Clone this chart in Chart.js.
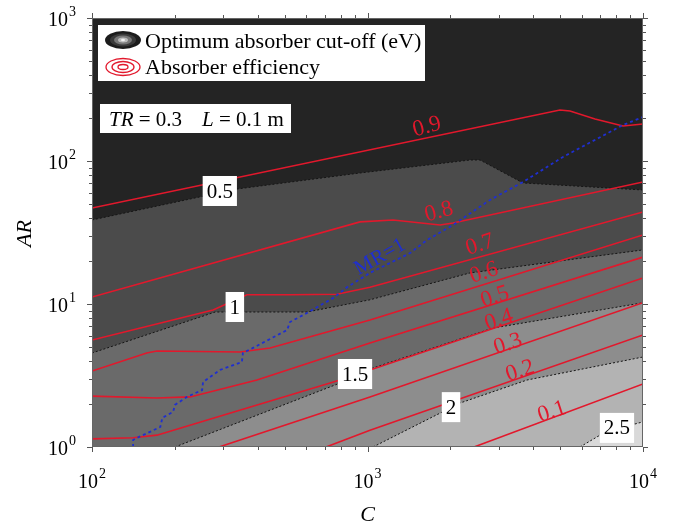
<!DOCTYPE html>
<html>
<head>
<meta charset="utf-8">
<script src="https://cdn.jsdelivr.net/npm/chart.js@4.4.0/dist/chart.umd.min.js"></script>
<style>
body{margin:0;background:#fff;}
canvas{display:block;}
</style>
</head>
<body>
<canvas id="chart" width="673" height="530"></canvas>
<script>
// optimum absorber cut-off contour boundaries (C, AR)
const cut05C = [100, 336, 939, 2356, 2561, 3668, 10000];
const cut05AR = [38.7, 63.7, 82.4, 101.6, 101.6, 70.2, 62.7];
const cut10C = [100, 280, 603, 1021, 2356, 10000];
const cut10AR = [4.54, 8.79, 8.79, 10.7, 16.5, 23.9];
const cut15C = [200, 795, 1047, 2855, 10000];
const cut15AR = [1, 2.80, 3.57, 6.79, 10.2];
const cut20C = [1047, 2167, 3793, 10000];
const cut20AR = [1, 2.03, 2.94, 4.26];
const cut25C = [5905, 7281, 10000];
const cut25AR = [1, 1.27, 1.50];

// absorber efficiency contours
const eff09C = [100, 4995, 5433, 6695, 8460, 10000];
const eff09AR = [46.9, 227.3, 223.7, 196.7, 175.7, 181.4];
const eff08C = [100, 939, 1238, 1833, 2044, 10000];
const eff08AR = [11.2, 37.5, 38.7, 35.7, 36.8, 71.3];
const eff07C = [100, 275, 365, 523, 775, 1021, 10000];
const eff07AR = [5.60, 9.08, 11.6, 11.6, 11.7, 13.1, 44.0];
const eff06C = [100, 158, 172, 345, 443, 1021, 10000];
const eff06AR = [3.40, 4.54, 4.69, 4.62, 4.93, 7.73, 30.4];
const eff05C = [100, 172, 227, 397, 1021, 10000];
const eff05AR = [2.27, 2.20, 2.24, 2.94, 5.34, 21.3];
const eff04C = [100, 141, 172, 299, 795, 1021, 10000];
const eff04AR = [1.14, 1.16, 1.21, 1.67, 2.94, 3.46, 15.2];
const eff03C = [289, 1021, 10000];
const eff03AR = [1, 2.24, 10.2];
const eff02C = [707, 1021, 10000];
const eff02AR = [1, 1.31, 6.07];
const eff01C = [2436, 10000];
const eff01AR = [1, 2.76];

// MR = 1 line
const mr1C = [141, 141, 146, 177, 180, 197, 200, 221, 251, 253, 292, 350, 353, 384, 511, 523, 603, 750, 843, 1021, 1427, 1644, 2044, 2784, 3668, 5122, 8460, 10000];
const mr1AR = [1, 1.12, 1.16, 1.38, 1.60, 1.76, 1.97, 2.24, 2.50, 2.85, 3.46, 3.93, 4.54, 4.93, 6.58, 7.48, 8.65, 11.0, 13.1, 16.5, 22.7, 28.0, 35.7, 53.4, 71.3, 106.7, 178.5, 203.1];

// contour labels
const cutLabels = ['0.5', '1', '1.5', '2', '2.5'];
const cutLabelC = [291, 330, 901, 2010, 8045];
const cutLabelAR = [61.7, 9.53, 3.24, 1.90, 1.36];
const effLabels = ['0.9', '0.8', '0.7', '0.6', '0.5', '0.4', '0.3', '0.2', '0.1'];
const effLabelC = [1644, 1818, 2561, 2648, 2902, 3001, 3236, 3578, 4674];
const effLabelAR = [172.9, 44.0, 25.9, 16.5, 11.2, 7.73, 5.25, 3.40, 1.76];

// axes
const xDecades = [100, 1000, 10000];
const xExp = ['2', '3', '4'];
const yDecades = [1, 10, 100, 1000];
const yExp = ['0', '1', '2', '3'];

const RED = '#e2182c';
const BLUE = '#1f2fd0';
const SERIF = '"Liberation Serif", "DejaVu Serif", serif';

function pts(cs, ars) {
    return cs.map((c, i) => ({x: c, y: ars[i]}));
}

const grayLayers = [
    [cut05C, cut05AR, '#4b4b4b'],
    [cut10C, cut10AR, '#6a6a6a'],
    [cut15C, cut15AR, '#8d8d8d'],
    [cut20C, cut20AR, '#b3b3b3'],
    [cut25C, cut25AR, '#d9d9d9']
];
const effLines = [
    [eff09C, eff09AR], [eff08C, eff08AR], [eff07C, eff07AR],
    [eff06C, eff06AR], [eff05C, eff05AR], [eff04C, eff04AR],
    [eff03C, eff03AR], [eff02C, eff02AR], [eff01C, eff01AR]
];

const datasets = [];
grayLayers.forEach((g, i) => {
    datasets.push({
        data: pts(g[0], g[1]),
        fill: 'start',
        backgroundColor: g[2],
        borderColor: '#151515',
        borderWidth: 1,
        borderDash: [2, 2],
        pointRadius: 0,
        tension: 0,
        order: 20 - i
    });
});
effLines.forEach(l => {
    datasets.push({
        data: pts(l[0], l[1]),
        fill: false,
        borderColor: RED,
        borderWidth: 1.6,
        pointRadius: 0,
        tension: 0,
        order: 2
    });
});
datasets.push({
    data: pts(mr1C, mr1AR),
    fill: false,
    borderColor: BLUE,
    borderWidth: 1.8,
    borderDash: [3, 3],
    pointRadius: 0,
    tension: 0,
    order: 1
});

function power(ctx, x, y, exp, align) {
    ctx.font = '20px ' + SERIF;
    const w1 = ctx.measureText('10').width;
    ctx.font = '14px ' + SERIF;
    const w2 = ctx.measureText(exp).width;
    const x0 = align === 'right' ? x - w1 - w2 - 1 : x - (w1 + w2 + 1) / 2;
    ctx.fillStyle = '#000';
    ctx.textAlign = 'left';
    ctx.textBaseline = 'alphabetic';
    ctx.font = '20px ' + SERIF;
    ctx.fillText('10', x0, y);
    ctx.font = '14px ' + SERIF;
    ctx.fillText(exp, x0 + w1 + 1, y - 10);
}

function runs(ctx, x, y, parts) {
    parts.forEach(p => {
        ctx.font = (p[1] ? 'italic ' : '') + '21px ' + SERIF;
        ctx.fillText(p[0], x, y);
        x += ctx.measureText(p[0]).width;
    });
}

const decor = {
    id: 'decor',
    beforeDatasetsDraw(chart) {
        const {ctx, chartArea: a} = chart;
        ctx.save();
        ctx.fillStyle = '#242424';
        ctx.fillRect(a.left, a.top, a.right - a.left, a.bottom - a.top);
        ctx.restore();
    },
    afterDatasetsDraw(chart) {
        const {ctx, scales: {x, y}} = chart;
        ctx.save();
        // boxed cut-off labels
        ctx.font = '21px ' + SERIF;
        ctx.textAlign = 'center';
        ctx.textBaseline = 'middle';
        cutLabels.forEach((t, i) => {
            const px = x.getPixelForValue(cutLabelC[i]);
            const py = y.getPixelForValue(cutLabelAR[i]);
            const w = ctx.measureText(t).width + 8;
            ctx.fillStyle = '#fff';
            ctx.fillRect(px - w / 2, py - 15, w, 30);
            ctx.fillStyle = '#000';
            ctx.fillText(t, px, py + 1);
        });
        // efficiency labels
        ctx.font = '23px ' + SERIF;
        ctx.fillStyle = RED;
        effLabels.forEach((t, i) => {
            const px = x.getPixelForValue(effLabelC[i]);
            const py = y.getPixelForValue(effLabelAR[i]);
            ctx.save();
            ctx.translate(px, py);
            ctx.rotate((i < 2 ? -15 : -18) * Math.PI / 180);
            ctx.fillText(t, 0, 0);
            ctx.restore();
        });
        // MR=1
        ctx.save();
        ctx.font = '21px ' + SERIF;
        ctx.fillStyle = BLUE;
        ctx.translate(x.getPixelForValue(1110), y.getPixelForValue(21.3));
        ctx.rotate(-29 * Math.PI / 180);
        ctx.fillText('MR=1', 0, 0);
        ctx.restore();

        // legend box
        ctx.fillStyle = '#fff';
        ctx.fillRect(98, 25, 327, 56);
        const ells = [[18, 9, '#1c1c1c'], [13, 6.5, '#3a3a3a'], [9, 4.5, '#777'], [5, 2.5, '#bbb'], [2, 1.2, '#f0f0f0']];
        ells.forEach(e => {
            ctx.beginPath();
            ctx.ellipse(123, 40, e[0], e[1], 0, 0, Math.PI * 2);
            ctx.fillStyle = e[2];
            ctx.fill();
        });
        ctx.strokeStyle = RED;
        ctx.lineWidth = 1.3;
        [[17, 8.5], [11, 5.5], [5, 2.5]].forEach(e => {
            ctx.beginPath();
            ctx.ellipse(123, 67, e[0], e[1], 0, 0, Math.PI * 2);
            ctx.stroke();
        });
        ctx.fillStyle = '#000';
        ctx.textAlign = 'left';
        ctx.textBaseline = 'alphabetic';
        ctx.font = '22px ' + SERIF;
        ctx.fillText('Optimum absorber cut-off (eV)', 145, 48);
        ctx.fillText('Absorber efficiency', 145, 74);

        // parameter box
        ctx.fillStyle = '#fff';
        ctx.fillRect(100, 104, 191, 29);
        ctx.fillStyle = '#000';
        runs(ctx, 109, 126, [['TR', true], [' = 0.3', false]]);
        runs(ctx, 202, 126, [['L', true], [' = 0.1 m', false]]);
        ctx.restore();
    },
    afterDraw(chart) {
        const {ctx, chartArea: a, scales: {x, y}} = chart;
        ctx.save();
        ctx.strokeStyle = '#666';
        ctx.lineWidth = 1;
        ctx.strokeRect(a.left + 0.5, a.top + 0.5, a.right - a.left - 1, a.bottom - a.top - 1);
        ctx.beginPath();
        // x ticks (bottom + top)
        for (let d = 100; d < 10000; d *= 10) {
            for (let k = 1; k <= 10; k++) {
                const px = Math.round(x.getPixelForValue(d * k)) + 0.5;
                const len = (k === 1 || k === 10) ? 5 : 3;
                ctx.moveTo(px, a.bottom); ctx.lineTo(px, a.bottom + len);
                ctx.moveTo(px, a.top); ctx.lineTo(px, a.top - len);
            }
        }
        // y ticks (left + right)
        for (let d = 1; d < 1000; d *= 10) {
            for (let k = 1; k <= 10; k++) {
                const py = Math.round(y.getPixelForValue(d * k)) + 0.5;
                const len = (k === 1 || k === 10) ? 5 : 3;
                ctx.moveTo(a.left, py); ctx.lineTo(a.left - len, py);
                ctx.moveTo(a.right, py); ctx.lineTo(a.right + len, py);
            }
        }
        ctx.strokeStyle = '#555';
        ctx.stroke();

        xDecades.forEach((v, i) => power(ctx, x.getPixelForValue(v), a.bottom + 41, xExp[i], 'center'));
        yDecades.forEach((v, i) => power(ctx, a.left - 16, y.getPixelForValue(v) + 8, yExp[i], 'right'));

        ctx.fillStyle = '#000';
        ctx.font = 'italic 22px ' + SERIF;
        ctx.textAlign = 'center';
        ctx.textBaseline = 'middle';
        ctx.fillText('C', (a.left + a.right) / 2, 515);
        ctx.save();
        ctx.translate(25, (a.top + a.bottom) / 2 + 1);
        ctx.rotate(-Math.PI / 2);
        ctx.fillText('AR', 0, 0);
        ctx.restore();
        ctx.restore();
    }
};

new Chart(document.getElementById('chart').getContext('2d'), {
    type: 'line',
    data: {datasets: datasets},
    options: {
        responsive: false,
        animation: false,
        layout: {padding: {left: 92, right: 30, top: 18, bottom: 83}},
        plugins: {legend: {display: false}, tooltip: {enabled: false}},
        scales: {
            x: {type: 'logarithmic', min: 100, max: 10000, display: false},
            y: {type: 'logarithmic', min: 1, max: 1000, display: false}
        }
    },
    plugins: [decor]
});
</script>
</body>
</html>
